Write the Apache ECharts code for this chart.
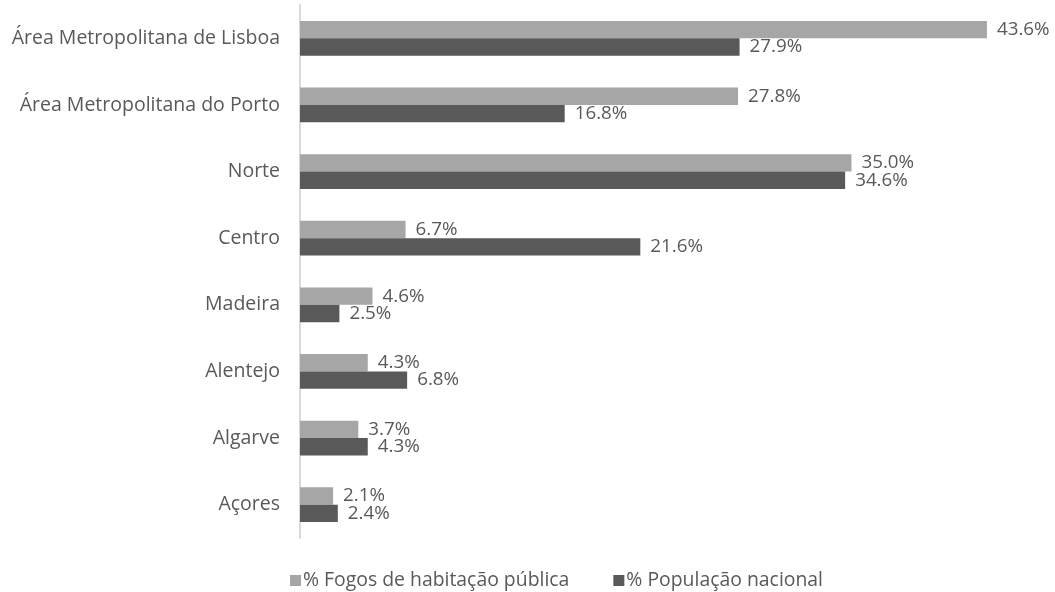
<!DOCTYPE html>
<html>
<head>
<meta charset="utf-8">
<script src="https://cdn.jsdelivr.net/npm/echarts@6/dist/echarts.min.js"></script>
<style>html,body{margin:0;padding:0;background:#fff}#c{width:1055px;height:592px}</style>
</head>
<body>
<div id="c"></div>
<script>
const categories = ["Área Metropolitana de Lisboa","Área Metropolitana do Porto","Norte","Centro","Madeira","Alentejo","Algarve","Açores"];
const fogos = [43.6, 27.8, 35.0, 6.7, 4.6, 4.3, 3.7, 2.1];
const populacao = [27.9, 16.8, 34.6, 21.6, 2.5, 6.8, 4.3, 2.4];
const seriesNames = ["% Fogos de habitação pública", "% População nacional"];

const chart = echarts.init(document.getElementById('c'));
const font = "'Open Sans', sans-serif";
const lbl = {
  show: true, position: 'right', distance: 10,
  formatter: p => p.value.toFixed(1) + '%',
  color: '#595959', fontSize: 18.8, fontFamily: font
};
chart.setOption({
  animation: false,
  grid: {left: 300, top: 5, width: 709, height: 533},
  legend: {
    left: 290, top: 571, itemWidth: 11, itemHeight: 11, itemGap: 44,
    icon: 'rect', padding: 0,
    textStyle: {color: '#595959', fontSize: 19.4, fontFamily: font, padding: [0,0,0,-3]},
    data: seriesNames
  },
  xAxis: {type: 'value', min: 0, max: 45, show: false},
  yAxis: {
    type: 'category', data: categories, inverse: true,
    axisLine: {show: true, lineStyle: {color: '#d9d9d9', width: 2}},
    axisTick: {show: false},
    axisLabel: {color: '#595959', fontSize: 19.5, fontFamily: font, margin: 20}
  },
  series: [
    {name: seriesNames[0], type: 'bar', data: fogos, barGap: '0%', barCategoryGap: '48%',
     itemStyle: {color: '#a6a6a6'}, label: lbl},
    {name: seriesNames[1], type: 'bar', data: populacao,
     itemStyle: {color: '#595959'}, label: lbl}
  ]
});
</script>
</body>
</html>
